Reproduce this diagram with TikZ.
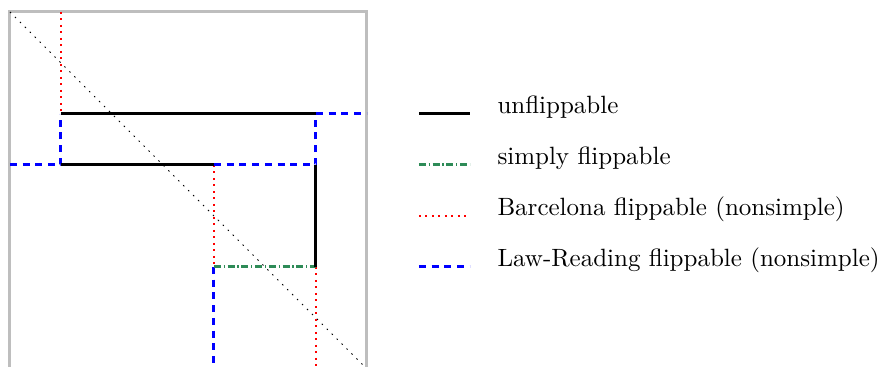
\documentclass[tikz,border=0pt]{standalone}
\usetikzlibrary{calc}
\definecolor{frame}{RGB}{190,190,190}
\definecolor{sgreen}{RGB}{46,139,87}
\tikzset{
  unfl/.style={line width=1.2pt, black},
  simpl/.style={line width=1.2pt, sgreen, dash pattern=on 2.8pt off 1.1pt on 0.5pt off 1.1pt},
  barc/.style={line width=0.8pt, red, dash pattern=on 0.8pt off 1.8pt},
  lawr/.style={line width=1.2pt, blue, dash pattern=on 2.8pt off 2.3pt},
  legtext/.style={anchor=base west, inner sep=0pt, font=\fontsize{10}{12}\selectfont}
}
\begin{document}
\begin{tikzpicture}[x=20.4pt,y=20.4pt]
\useasboundingbox (-0.196,0.04) rectangle (17.06,7.235);
\begin{scope}
\clip (-0.196,0.04) rectangle (17.06,7.235);
% frame
\draw[line width=1.2pt, frame] (0,0) -- (0,7) -- (7,7) -- (7,0);
% diagonal
\draw[line width=0.4pt, black, dash pattern=on 0.6pt off 2.2pt] (0,7) -- (7,0);
% Barcelona (red dotted)
\draw[barc] (1,7) -- (1,5);
\draw[barc] (4,4) -- (4,2);
\draw[barc] (6,2) -- (6,0);
% Law-Reading (blue dashed)
\draw[lawr] (0,4) -- (1,4) -- (1,5);
\draw[lawr] (4,4) -- (6,4) -- (6,5) -- (7,5);
\draw[lawr] (4,2) -- (4,0);
% simply flippable
\draw[simpl] (4,2) -- (6,2);
% unflippable
\draw[unfl] (1,5) -- (6,5);
\draw[unfl] (1,4) -- (4,4);
\draw[unfl] (6,4) -- (6,2);
\end{scope}
% legend
\coordinate (l1) at (8.02,5);
\coordinate (l2) at (8.02,4);
\coordinate (l3) at (8.02,3);
\coordinate (l4) at (8.02,2);
\draw[unfl] (l1) -- ++(1,0);
\draw[simpl] (l2) -- ++(1,0);
\draw[barc] (l3) -- ++(1,0);
\draw[lawr] (l4) -- ++(1,0);
\node[legtext] (t1) at (9.55,5) {unflippable};
\node[legtext] (t2) at (9.55,4) {simply flippable};
\node[legtext] (t3) at (9.55,3) {Barcelona flippable (nonsimple)};
\node[legtext] (t4) at (9.55,2) {Law-Reading flippable (nonsimple)};
\end{tikzpicture}
\end{document}
